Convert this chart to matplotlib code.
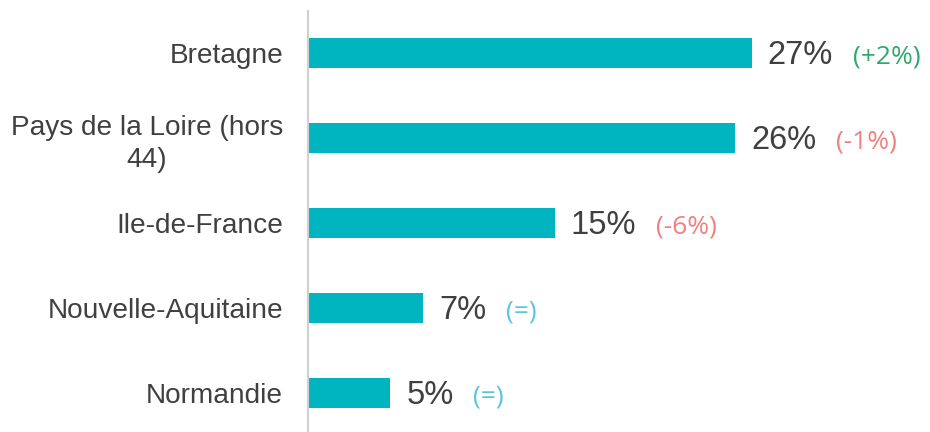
import matplotlib
matplotlib.use("Agg")
import matplotlib.pyplot as plt

categories = ["Bretagne", "Pays de la Loire (hors\n44)", "Ile-de-France", "Nouvelle-Aquitaine", "Normandie"]
values = [27, 26, 15, 7, 5]
changes = ["(+2%)", "(-1%)", "(-6%)", "(=)", "(=)"]
change_colors = ["#2EAA6E", "#F08080", "#F08080", "#5BC5DF", "#5BC5DF"]

W, H = 930, 432
fig = plt.figure(figsize=(W / 100, H / 100), dpi=100)
ax = fig.add_axes([308 / W, 0, (W - 308) / W, 421 / H])

y = list(range(len(categories)))
ax.barh(y, values, height=0.35, color="#00B4C0", zorder=2)
ax.set_xlim(0, (W - 308) / 16.44)
ax.set_ylim(4.46, -0.494)

for s in ["top", "right", "bottom"]:
    ax.spines[s].set_visible(False)
ax.spines["left"].set_color("#D0D0D0")
ax.spines["left"].set_linewidth(1.5)
ax.set_xticks([])
ax.set_yticks(y)
ax.set_yticklabels(categories, fontsize=20.2, color="#404040", family="Liberation Sans",
                   multialignment="center", linespacing=1.3)
ax.tick_params(axis="y", length=0, pad=18)

for yi, v, ch, c in zip(y, values, changes, change_colors):
    t = ax.annotate(f"{v}%", xy=(v, yi), xytext=(11.5, -2), textcoords="offset points",
                    ha="left", va="center", fontsize=23.5, color="#404040", family="Liberation Sans")
    ax.annotate(ch, xy=(1, 0.5), xycoords=t, xytext=(14, -1), textcoords="offset points",
                ha="left", va="center", fontsize=19, color=c, family="Open Sans")

fig.savefig("out.png", dpi=100)
